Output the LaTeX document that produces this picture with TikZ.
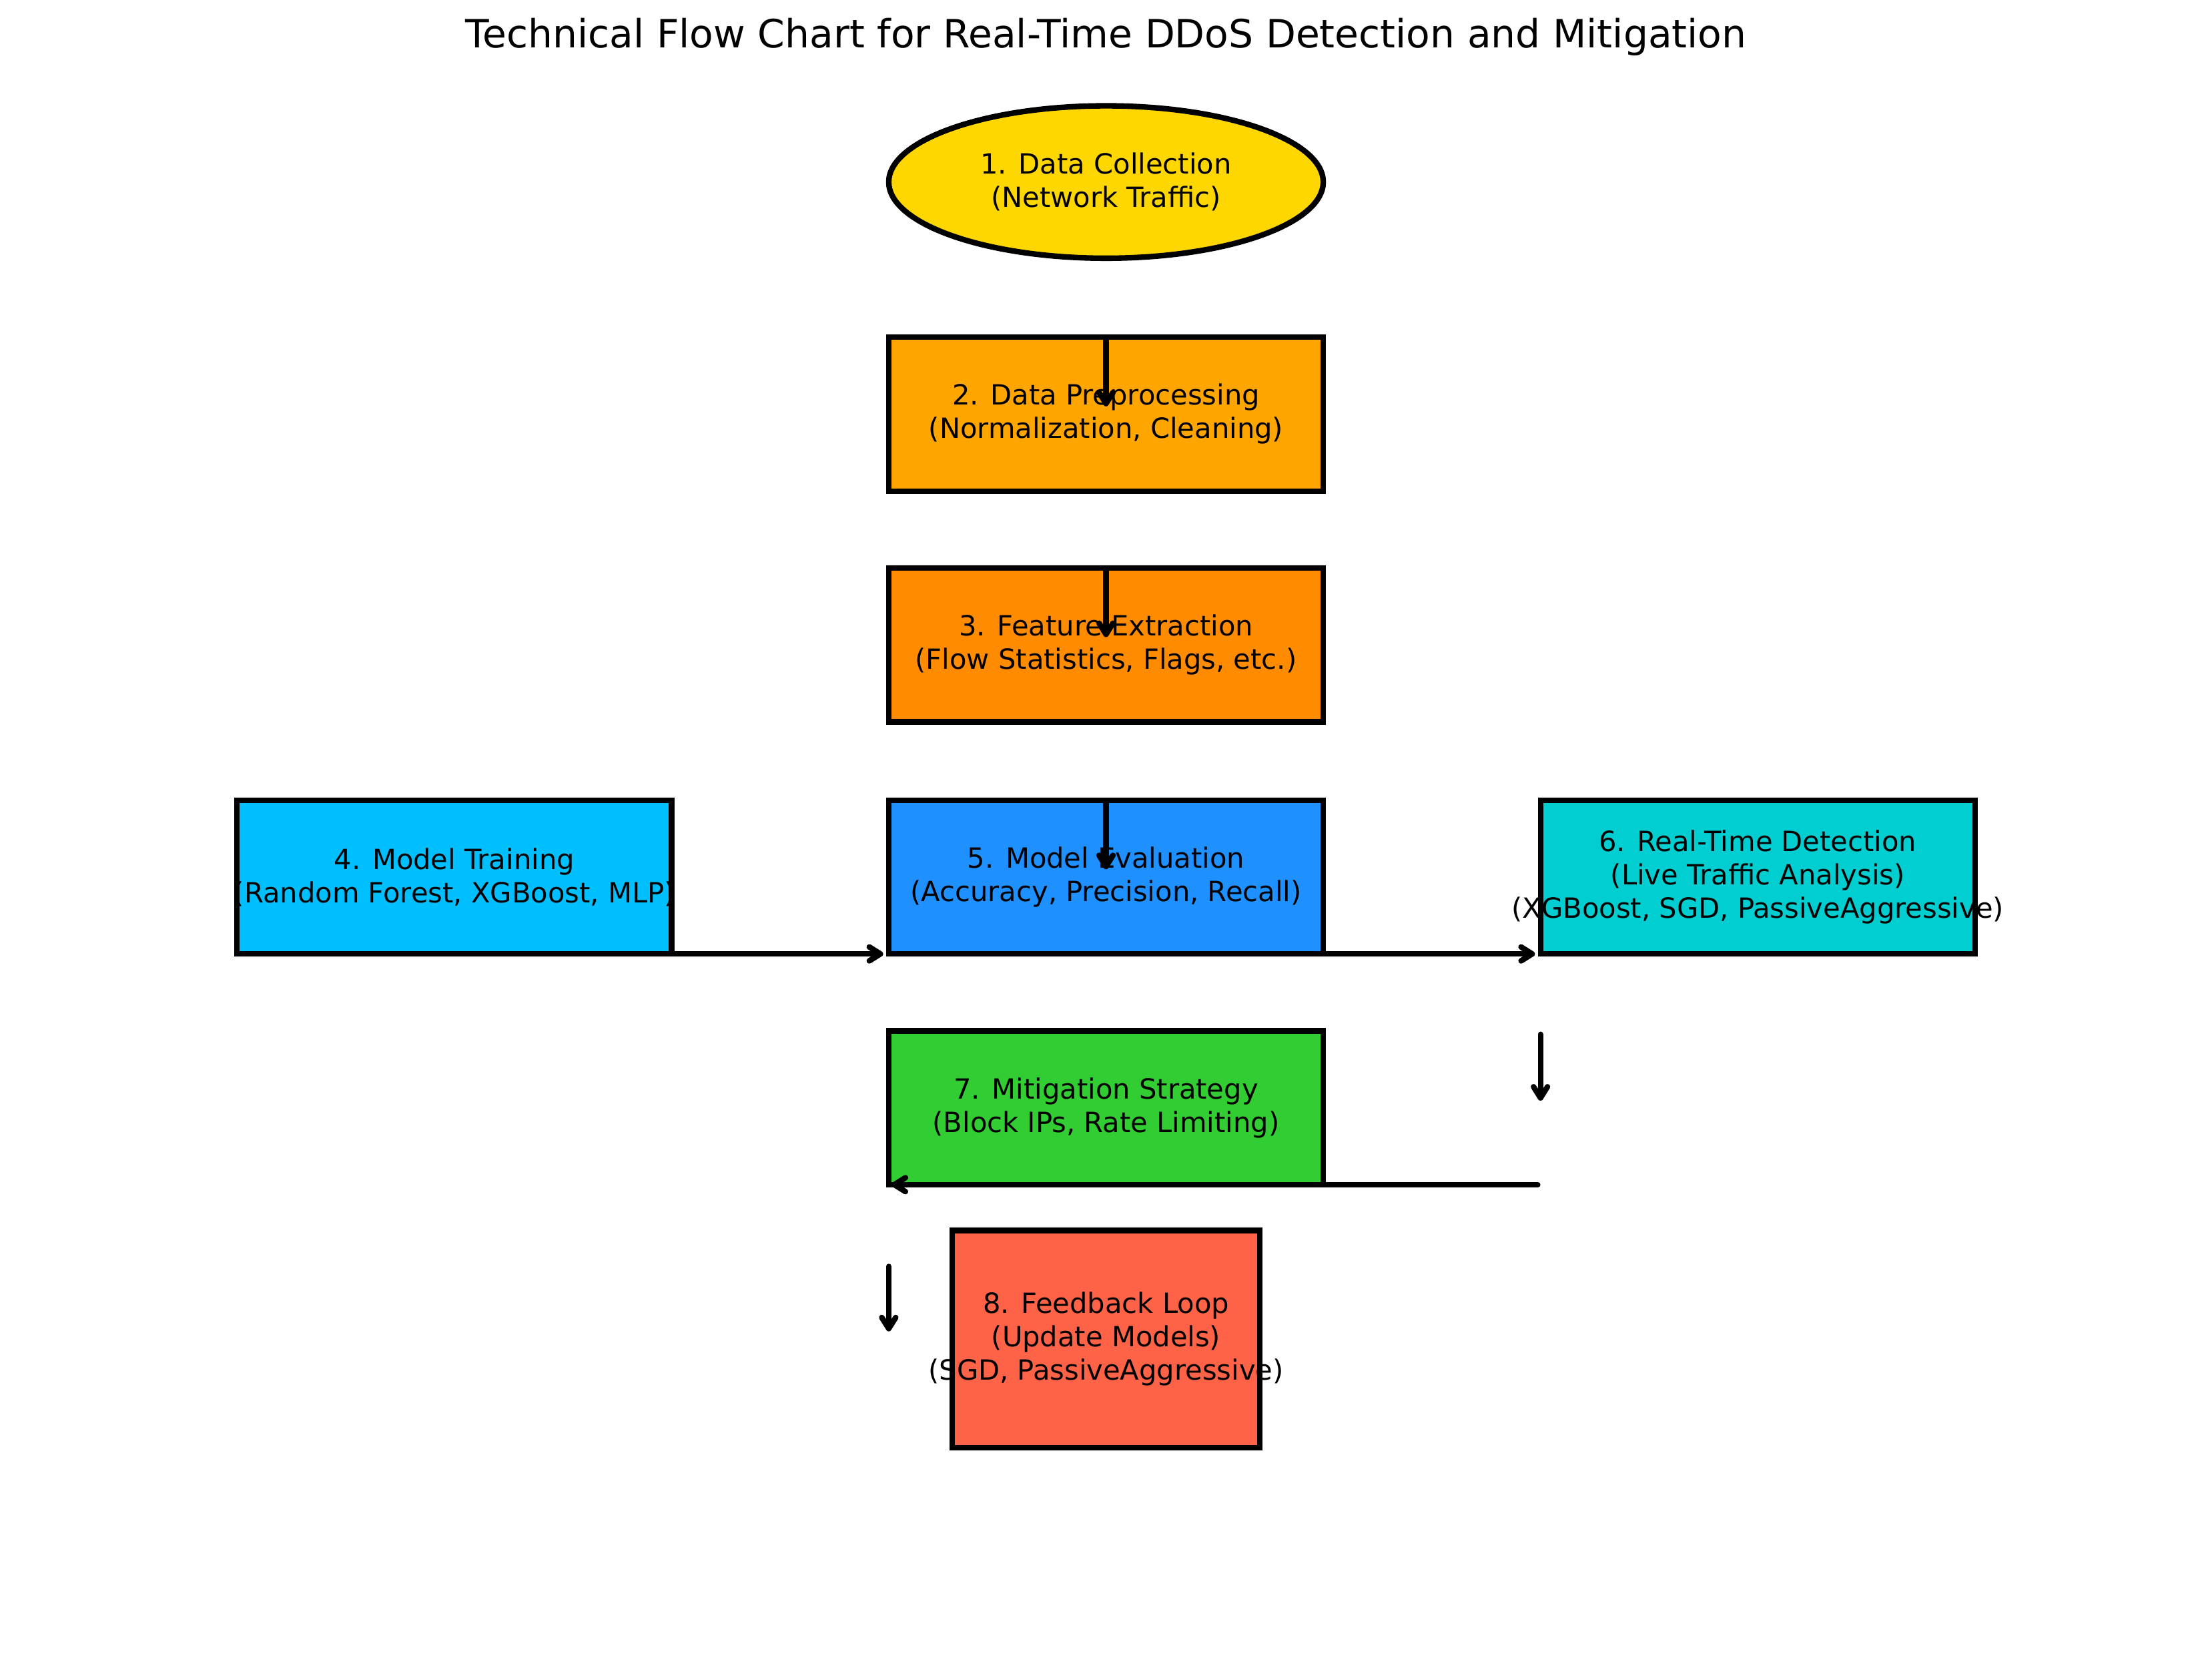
\documentclass[tikz,border=0pt]{standalone}
\usepackage{fontspec}
\setmainfont{DejaVu Sans}
\usetikzlibrary{arrows.meta,shapes.geometric,calc}
\definecolor{cgold}{HTML}{FFD700}
\definecolor{corange}{HTML}{FFA500}
\definecolor{cdarkorange}{HTML}{FF8C00}
\definecolor{cdeepsky}{HTML}{00BFFF}
\definecolor{cdodger}{HTML}{1E90FF}
\definecolor{cturq}{HTML}{00CED1}
\definecolor{clime}{HTML}{32CD32}
\definecolor{ctomato}{HTML}{FF6347}
\def\pxu{0.50741pt}
\begin{document}
\begin{tikzpicture}[x=0.50741pt,y=-0.50741pt,
  stepbox/.style={draw=black, line width=2pt, rectangle, inner sep=0pt, outer sep=0pt,
    minimum width=308*\pxu, minimum height=109*\pxu},
  txt/.style={font=\fontsize{10}{12}\selectfont, align=center, text=black, inner sep=0pt},
  arr/.style={line width=2pt, line cap=round, line join=round,
    -{Straight Barb[length=4pt,width=5pt,round]}}
]
\useasboundingbox (0,0) rectangle (1568,1182);
\node[font=\fontsize{14}{16.8}\selectfont, inner sep=0pt] (title) at (784,26)
  {Technical Flow Chart for Real-Time DDoS Detection and Mitigation};

\node[ellipse, draw=black, line width=2pt, fill=cgold, inner sep=0pt, outer sep=0pt,
  minimum width=308*\pxu, minimum height=108*\pxu] (n1) at (784,129) {};
\node[stepbox, fill=corange] (n2) at (784,293.5) {};
\node[stepbox, fill=cdarkorange] (n3) at (784,457) {};
\node[stepbox, fill=cdeepsky] (n4) at (322,621.5) {};
\node[stepbox, fill=cdodger] (n5) at (784,621.5) {};
\node[stepbox, fill=cturq] (n6) at (1246,621.5) {};
\node[stepbox, fill=clime] (n7) at (784,785) {};
\node[stepbox, fill=ctomato, minimum width=218*\pxu, minimum height=154*\pxu] (n8) at (784,949) {};

\draw[arr, shorten <=1pt] (n2.north) -- ++(0,49);
\draw[arr, shorten <=1pt] (n3.north) -- ++(0,49);
\draw[arr, shorten <=1pt] (n5.north) -- ++(0,49);
\draw[arr, shorten >=2pt] (n4.south) -- (n5.south west);
\draw[arr, shorten <=1pt, shorten >=2pt] (n5.south east) -- (n6.south west);
\coordinate (c6a) at ($(n6.south west)+(0,57)$);
\coordinate (c6b) at ($(n6.south west)+(0,104)$);
\draw[arr] (c6a) -- (c6b);
\coordinate (c7a) at ($(n6.west |- n7.south)+(-2,0)$);
\draw[arr, shorten >=1pt] (c7a) -- (n7.south west);
\coordinate (c8a) at ($(n7.south west)+(0,58)$);
\coordinate (c8b) at ($(n7.south west)+(0,104)$);
\draw[arr] (c8a) -- (c8b);

\node[txt] (t1) at (n1.center) {1. Data Collection\\(Network Traffic)};
\node[txt] (t2) at (n2.center) {2. Data Preprocessing\\(Normalization, Cleaning)};
\node[txt] (t3) at (n3.center) {3. Feature Extraction\\(Flow Statistics, Flags, etc.)};
\node[txt] (t4) at (n4.center) {4. Model Training\\(Random Forest, XGBoost, MLP)};
\node[txt] (t5) at (n5.center) {5. Model Evaluation\\(Accuracy, Precision, Recall)};
\node[txt] (t6) at (n6.center) {6. Real-Time Detection\\(Live Traffic Analysis)\\(XGBoost, SGD, PassiveAggressive)};
\node[txt] (t7) at (n7.center) {7. Mitigation Strategy\\(Block IPs, Rate Limiting)};
\node[txt] (t8) at (n8.center) {8. Feedback Loop\\(Update Models)\\(SGD, PassiveAggressive)};
\end{tikzpicture}
\end{document}
